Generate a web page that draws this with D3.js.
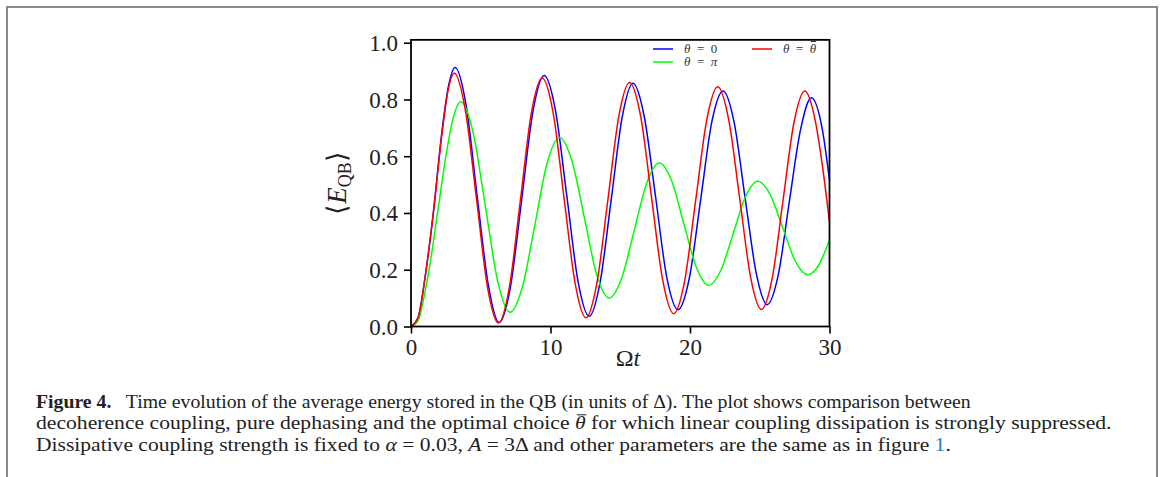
<!DOCTYPE html>
<html><head><meta charset="utf-8">
<script src="https://cdn.jsdelivr.net/npm/d3@7"></script>
<style>body{margin:0;background:#fff}svg{display:block}</style>
</head><body><svg id="c" width="1163" height="477"></svg>
<script>
// ---- data ----
const xTicks = [0, 10, 20, 30];
const yTicks = [0, 0.2, 0.4, 0.6, 0.8, 1.0];

const tBlue = [0,0.5,1.0,1.6,2.2,2.7,3.16,3.95,4.74,5.53,6.32,7.13,7.94,8.74,9.55,10.36,11.17,11.97,12.78,13.56,14.35,15.13,15.91,16.72,17.53,18.33,19.14,19.95,20.76,21.56,22.37,23.16,23.95,24.74,25.53,26.32,27.12,27.91,28.7,29.5,30];
const eBlue = [0,0.03,0.17,0.40,0.68,0.85,0.913,0.78,0.46,0.15,0.014,0.14,0.45,0.757,0.884,0.76,0.46,0.16,0.036,0.157,0.446,0.735,0.857,0.74,0.458,0.175,0.059,0.17,0.445,0.72,0.83,0.72,0.453,0.19,0.077,0.18,0.44,0.69,0.806,0.69,0.515];

const tGreen = [0,0.5,1.0,1.3,1.9,2.5,3.0,3.57,4.45,5.34,6.22,7.1,7.99,8.88,9.76,10.65,11.54,12.43,13.31,14.2,15.1,16.0,16.9,17.8,18.69,19.57,20.46,21.34,22.22,23.1,23.98,24.86,25.76,26.66,27.55,28.45,29.2,30];
const eGreen = [0,0.02,0.12,0.2,0.40,0.6,0.73,0.792,0.684,0.421,0.158,0.05,0.14,0.358,0.576,0.666,0.583,0.383,0.183,0.10,0.17,0.338,0.506,0.576,0.513,0.36,0.208,0.145,0.199,0.328,0.458,0.512,0.464,0.347,0.23,0.182,0.214,0.305];

const tRed = [0,0.5,1.0,1.6,2.2,2.65,3.1,3.89,4.69,5.48,6.27,7.05,7.84,8.62,9.4,10.19,10.97,11.76,12.54,13.32,14.11,14.89,15.67,16.46,17.25,18.04,18.83,19.62,20.41,21.2,21.99,22.77,23.56,24.34,25.12,25.9,26.67,27.45,28.23,29.0,29.5,30];
const eRed = [0,0.03,0.17,0.40,0.67,0.83,0.892,0.764,0.452,0.14,0.012,0.138,0.444,0.75,0.876,0.753,0.453,0.154,0.031,0.152,0.445,0.739,0.86,0.741,0.452,0.164,0.045,0.162,0.445,0.728,0.845,0.73,0.452,0.175,0.06,0.172,0.445,0.718,0.83,0.72,0.563,0.368];

const seriesLabels = ["θ = 0", "θ = π", "θ = θ̄"];
const seriesColors = ["#0000ff", "#00ff00", "#ff0000"];

// ---- drawing ----
const svg = d3.select("#c");
const serif = "'Liberation Serif','DejaVu Serif',serif";

// page border
svg.append("path").attr("d","M7,477V7H1157V477").attr("fill","none").attr("stroke","#8a8a8a").attr("stroke-width",2);

const x = d3.scaleLinear().domain([0,30]).range([411,829.5]);
const y = d3.scaleLinear().domain([0,1]).range([326.5,42.7]);

const series = [
  {t:tBlue, e:eBlue},
  {t:tGreen, e:eGreen},
  {t:tRed, e:eRed}
];

svg.append("clipPath").attr("id","pc").append("rect")
  .attr("x",x(0)).attr("y",y(1.01)).attr("width",x(30)-x(0)).attr("height",y(0)-y(1.01));

const line = d3.line().x(d=>x(d[0])).y(d=>y(d[1])).curve(d3.curveMonotoneX);
series.forEach((s,i)=>{
  svg.append("path").datum(s.t.map((t,j)=>[t,s.e[j]]))
    .attr("d",line).attr("fill","none").attr("stroke",seriesColors[i]).attr("stroke-width",1.5)
    .attr("clip-path","url(#pc)");
});

// axes
const xAxis = d3.axisBottom(x).tickValues(xTicks).tickFormat(d3.format("d")).tickSize(7).tickPadding(5);
const yAxis = d3.axisLeft(y).tickValues(yTicks).tickFormat(d3.format(".1f")).tickSize(7).tickPadding(6);
const gx = svg.append("g").attr("transform",`translate(0,${y(0)})`).call(xAxis);
const gy = svg.append("g").attr("transform",`translate(${x(0)},0)`).call(yAxis);
[gx,gy].forEach(g=>{
  g.select(".domain").remove();
  g.selectAll(".tick line").attr("stroke","#000").attr("stroke-width",1.6);
  g.selectAll(".tick text").attr("font-family",serif).attr("font-size",23).attr("fill","#222");
});
gy.selectAll(".tick text").attr("dy","0.34em");

// frame
svg.append("rect").attr("x",x(0)).attr("y",y(1.01)).attr("width",x(30)-x(0)).attr("height",y(0)-y(1.01))
  .attr("fill","none").attr("stroke","#000").attr("stroke-width",1.8);

// axis labels
const xl = svg.append("text").attr("x",628).attr("y",366).attr("text-anchor","middle")
  .attr("font-family",serif).attr("font-size",24).attr("fill","#222");
xl.append("tspan").text("Ω");
xl.append("tspan").attr("font-style","italic").text("t");

const yl = svg.append("text").attr("transform","translate(346,183) rotate(-90)").attr("text-anchor","middle")
  .attr("font-family",serif).attr("font-size",27).attr("fill","#222");
yl.append("tspan").attr("font-family","'DejaVu Sans',sans-serif").attr("font-weight","200").attr("font-size",27).text("⟨");
yl.append("tspan").attr("font-style","italic").text("E");
yl.append("tspan").attr("font-size",18).attr("dy",5).text("QB");
yl.append("tspan").attr("font-family","'DejaVu Sans',sans-serif").attr("font-weight","200").attr("font-size",27).attr("dy",-5).text("⟩");

// legend
const legPos = [[653,49],[653,62],[752,49]];
seriesLabels.forEach((lab,i)=>{
  const [lx,ly] = legPos[i];
  svg.append("line").attr("x1",lx).attr("x2",lx+20).attr("y1",ly).attr("y2",ly)
    .attr("stroke",seriesColors[i]).attr("stroke-width",1.5);
  const txt = svg.append("text").attr("x",lx+31).attr("y",ly+4).attr("font-family",serif).attr("font-size",13).attr("fill","#333");
  txt.append("tspan").attr("font-style","italic").text("θ");
  txt.append("tspan").attr("xml:space","preserve").text("\u2002=\u2002");
  if (i===1) txt.append("tspan").attr("font-style","italic").text("π");
  else if (i===0) txt.append("tspan").text("0");
  else {
    txt.append("tspan").attr("font-style","italic").text("θ");
    const ext = txt.node().getExtentOfChar(txt.text().length-1);
    svg.append("line").attr("x1",ext.x+1).attr("x2",ext.x+ext.width).attr("y1",ext.y+0.5).attr("y2",ext.y+0.5)
      .attr("stroke","#333").attr("stroke-width",1);
  }
});

// caption: each line stretched horizontally to the reference extent
const capFont = 19.5;
function capLine(yy) {
  const g = svg.append("g");
  const t = g.append("text").attr("x",0).attr("y",0).attr("font-family",serif).attr("font-size",capFont).attr("fill","#222");
  return {g, t, yy};
}
function fit(c, endX) {
  const w = c.t.node().getComputedTextLength();
  c.g.attr("transform",`translate(36,${c.yy}) scale(${(endX-36)/w},1)`);
}
const cap1 = capLine(407.5);
cap1.t.append("tspan").attr("font-weight","bold").text("Figure 4.");
cap1.t.append("tspan").attr("xml:space","preserve").text("\u2002 Time evolution of the average energy stored in the QB (in units of Δ). The plot shows comparison between");
fit(cap1, 971);

const cap2 = capLine(429);
const cap2a = "decoherence coupling, pure dephasing and the optimal choice ";
cap2.t.append("tspan").text(cap2a);
cap2.t.append("tspan").attr("font-style","italic").text("θ");
cap2.t.append("tspan").text(" for which linear coupling dissipation is strongly suppressed.");
{
  const ext = cap2.t.node().getExtentOfChar(cap2a.length);
  cap2.g.append("line").attr("x1",ext.x+1.5).attr("x2",ext.x+ext.width+0.5).attr("y1",ext.y+2.8).attr("y2",ext.y+2.8)
    .attr("stroke","#222").attr("stroke-width",1);
}
fit(cap2, 1112);

const cap3 = capLine(450.5);
cap3.t.append("tspan").text("Dissipative coupling strength is fixed to ");
cap3.t.append("tspan").attr("font-style","italic").text("α");
cap3.t.append("tspan").attr("xml:space","preserve").text(" = 0.03, ");
cap3.t.append("tspan").attr("font-style","italic").text("A");
cap3.t.append("tspan").attr("xml:space","preserve").text(" = 3Δ and other parameters are the same as in figure ");
cap3.t.append("tspan").attr("fill","#1f7fc8").text("1");
cap3.t.append("tspan").text(".");
fit(cap3, 951);
</script>
</body></html>
